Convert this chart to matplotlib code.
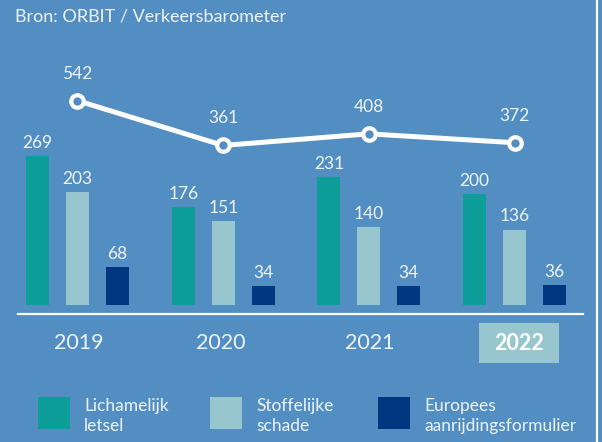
import numpy as np
import matplotlib.pyplot as plt
from matplotlib.patches import Rectangle

# data
jaren = ['2019', '2020', '2021', '2022']
lichamelijk = [269, 176, 231, 200]
stoffelijk = [203, 151, 140, 136]
europees = [68, 34, 34, 36]
totaal = [542, 361, 408, 372]
legend_labels = ['Lichamelijk\nletsel', 'Stoffelijke\nschade', 'Europees\naanrijdingsformulier']
bron = 'Bron: ORBIT / Verkeersbarometer'

bg = '#528ec1'
c_teal = '#0e9e9a'
c_light = '#97c6ce'
c_navy = '#003781'
txt = '#eef3f9'

plt.rcParams['font.family'] = ['Lato', 'DejaVu Sans']

W, H = 602, 442
fig = plt.figure(figsize=(W / 100, H / 100), dpi=100)
fig.patch.set_facecolor(bg)


def px_axes(x0, y0, x1, y1):
    # axes box from pixel coords (top-left origin)
    return fig.add_axes([x0 / W, 1 - y1 / H, (x1 - x0) / W, (y1 - y0) / H])


# bar axes
ax = px_axes(0, 25, W, 305)
ax.set_facecolor('none')
x = np.arange(len(jaren))
off = 0.2746
bw = 0.158
ax.bar(x - off, lichamelijk, bw, color=c_teal)
ax.bar(x, stoffelijk, bw, color=c_light)
ax.bar(x + off, europees, bw, color=c_navy)
for dx, vals in [(-off, lichamelijk), (0, stoffelijk), (off, europees)]:
    for xi, v in zip(x, vals):
        ax.annotate(str(v), (xi + dx, v), xytext=(0, 9.5), textcoords='offset points',
                    ha='center', va='center', color=txt, fontsize=12.5)
x0 = -77.5 / 145.7
ax.set_xlim(x0, x0 + W / 145.7)
ax.set_ylim(0, 280 / 0.555)
ax.axis('off')

# line axes
ax2 = ax.twinx()
ax2.set_facecolor('none')
ax2.plot(x, totaal, color='white', lw=3.6, marker='o', ms=9, mew=3,
         mfc=bg, mec='white', zorder=5, solid_capstyle='round')
for xi, v in zip(x, totaal):
    ax2.annotate(str(v), (xi, v), xytext=(0, 19.5), textcoords='offset points',
                 ha='center', va='center', color=txt, fontsize=12.5)
ax2.set_ylim(-284, 848)
ax2.axis('off')

# overlay for axis line, year labels, legend
ov = px_axes(0, 0, W, H)
ov.set_xlim(0, W)
ov.set_ylim(H, 0)
ov.axis('off')
ov.plot([18, 583], [314, 314], color='white', lw=1.6)
ov.plot([597, 597], [0, H], color='white', lw=1.6)
ov.text(15, 17, bron, color=txt, fontsize=13, va='center', ha='left')

year_x = [79, 221, 370, 519]
for yx, j in zip(year_x, jaren):
    if j == jaren[-1]:
        ov.add_patch(Rectangle((479, 323), 80, 40, color=c_light, lw=0))
        ov.text(yx, 343, j, color='white', fontsize=15.5, fontweight='bold',
                ha='center', va='center')
    else:
        ov.text(yx, 343, j, color=txt, fontsize=15.5, ha='center', va='center')

leg_x = [38, 210, 378]
for lx, lab, col in zip(leg_x, legend_labels, [c_teal, c_light, c_navy]):
    ov.add_patch(Rectangle((lx, 397), 32, 32, color=col, lw=0))
    ov.text(lx + 46, 416, lab, color=txt, fontsize=12.5, ha='left', va='center',
            linespacing=1.35)

fig.savefig('out.png', dpi=100, facecolor=bg)
